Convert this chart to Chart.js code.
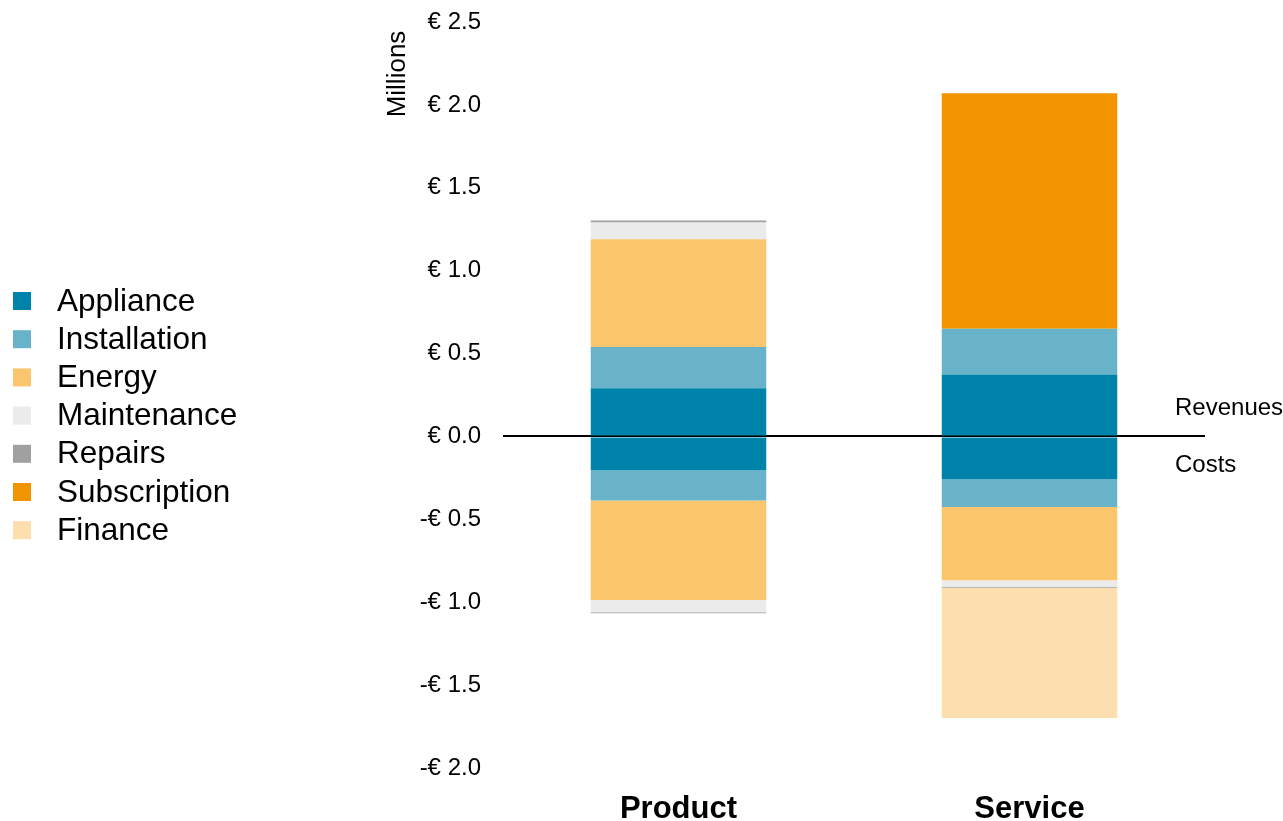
<!DOCTYPE html>
<html>
<head>
<meta charset="utf-8">
<style>
  html, body { margin: 0; padding: 0; background: #ffffff; }
  #wrap { width: 1283px; height: 821px; position: relative; }
</style>
<script src="https://cdn.jsdelivr.net/npm/chart.js@4.4.1/dist/chart.umd.min.js"></script>
</head>
<body>
<div id="wrap"><canvas id="chart" width="1283" height="821"></canvas></div>
<script>
// Business cases, in millions of euros: revenues above zero, costs below.
const categories = ['Product', 'Service'];
const yTicks = [-2.0, -1.5, -1.0, -0.5, 0.0, 0.5, 1.0, 1.5, 2.0, 2.5];

const applianceRevenue    = [0.290, 0.373];
const installationRevenue = [0.250, 0.277];
const energyRevenue       = [0.650, null];
const maintenanceRevenue  = [0.100, null];
const repairsRevenue      = [0.012, null];
const subscriptionRevenue = [null, 1.420];

const applianceCost    = [-0.203, -0.257];
const installationCost = [-0.183, -0.169];
const energyCost       = [-0.600, -0.441];
const maintenanceCost  = [-0.074, -0.040];
const repairsCost      = [-0.006, -0.006];
const financeCost      = [null, -0.785];

const seriesNames = ['Appliance', 'Installation', 'Energy', 'Maintenance', 'Repairs', 'Subscription', 'Finance'];
const seriesColors = ['#0083aa', '#68b3ca', '#fbc56d', '#ebebeb', '#a0a0a0', '#f29400', '#fddeaf'];

const FONT = '"Liberation Sans", Arial, sans-serif';

function bar(label, data, color) {
  return {
    label: label,
    data: data,
    backgroundColor: color,
    borderWidth: 0,
    stack: 'total',
    categoryPercentage: 1.0,
    barPercentage: 0.5
  };
}

const datasets = [
  bar('Appliance', applianceRevenue, seriesColors[0]),
  bar('Appliance', applianceCost, seriesColors[0]),
  bar('Installation', installationRevenue, seriesColors[1]),
  bar('Installation', installationCost, seriesColors[1]),
  bar('Energy', energyRevenue, seriesColors[2]),
  bar('Energy', energyCost, seriesColors[2]),
  bar('Maintenance', maintenanceRevenue, seriesColors[3]),
  bar('Maintenance', maintenanceCost, seriesColors[3]),
  bar('Repairs', repairsRevenue, seriesColors[4]),
  bar('Repairs', repairsCost, seriesColors[4]),
  bar('Subscription', subscriptionRevenue, seriesColors[5]),
  bar('Finance', financeCost, seriesColors[6])
];

function euro(v) {
  const s = Math.abs(v).toFixed(1);
  return (v < 0 ? '-€ ' : '€ ') + s;
}

// Legend, unit caption and revenue/cost side notes drawn on the canvas.
const annotations = {
  id: 'annotations',
  afterDraw(chart) {
    const ctx = chart.ctx;
    const y = chart.scales.y;
    ctx.save();

    // legend
    ctx.textBaseline = 'middle';
    ctx.textAlign = 'left';
    ctx.font = '31.5px ' + FONT;
    const top = 301, step = 38.2;
    seriesNames.forEach((name, i) => {
      const cy = top + i * step;
      ctx.fillStyle = seriesColors[i];
      ctx.fillRect(13, cy - 9, 18, 18);
      ctx.fillStyle = '#000';
      ctx.fillText(name, 57, cy + 1);
    });

    // unit caption
    ctx.save();
    ctx.translate(398, 74);
    ctx.rotate(-Math.PI / 2);
    ctx.textAlign = 'center';
    ctx.textBaseline = 'middle';
    ctx.font = '26px ' + FONT;
    ctx.fillStyle = '#000';
    ctx.fillText('Millions', 0, 0);
    ctx.restore();

    // side notes around the zero line
    const zero = y.getPixelForValue(0);
    ctx.font = '24px ' + FONT;
    ctx.fillStyle = '#000';
    ctx.textAlign = 'left';
    ctx.fillText('Revenues', 1175, zero - 28);
    ctx.fillText('Costs', 1175, zero + 29);

    ctx.restore();
  }
};

new Chart(document.getElementById('chart'), {
  type: 'bar',
  data: { labels: categories, datasets: datasets },
  options: {
    responsive: false,
    animation: false,
    layout: { padding: { left: 300, right: 78, top: 22, bottom: 0 } },
    plugins: {
      legend: { display: false },
      tooltip: { enabled: false }
    },
    scales: {
      x: {
        stacked: true,
        grid: { display: false },
        border: { display: false },
        ticks: {
          color: '#000',
          padding: 15,
          font: { family: FONT, size: 31, weight: 'bold' }
        },
        afterFit(scale) {
          scale.height = 53;
          scale.paddingLeft = 0;
          scale.paddingRight = 0;
        }
      },
      y: {
        stacked: true,
        min: -2.0,
        max: 2.5,
        z: 1,
        afterBuildTicks(scale) { scale.ticks = yTicks.map(v => ({ value: v })); },
        afterFit(scale) {
          scale.width = 203;
          scale.paddingTop = 0;
          scale.paddingBottom = 0;
        },
        border: { display: false },
        grid: {
          drawTicks: false,
          color: c => (c.tick && c.tick.value === 0 ? '#000000' : 'rgba(0,0,0,0)'),
          lineWidth: c => (c.tick && c.tick.value === 0 ? 2 : 0)
        },
        ticks: {
          color: '#000',
          padding: 22,
          font: { family: FONT, size: 24 },
          callback: v => euro(v)
        }
      }
    }
  },
  plugins: [annotations]
});
</script>
</body>
</html>
